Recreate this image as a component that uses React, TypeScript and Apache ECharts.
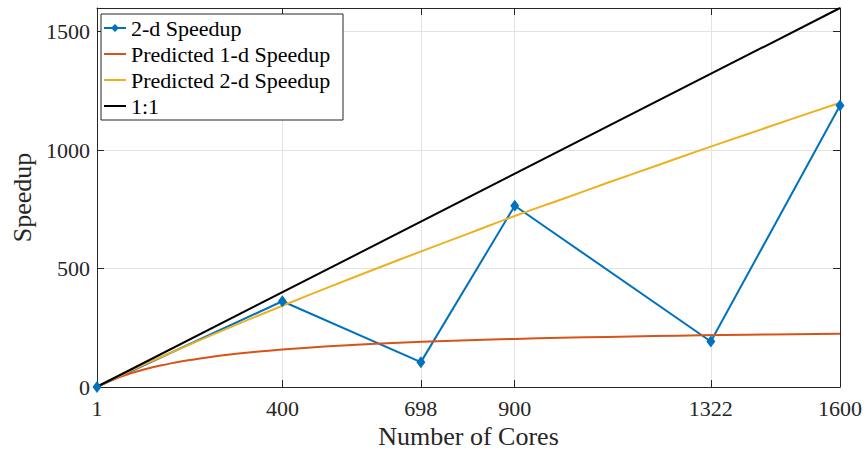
import React, { useEffect, useRef } from 'react';
import * as echarts from 'echarts';

const xTicks = [1, 400, 698, 900, 1322, 1600];
const speedupCores = [1, 400, 698, 900, 1322, 1600];
const speedup2d = [0, 362, 105, 765, 192, 1188];
const predCores = [1, 10, 25, 50, 100, 150, 200, 300, 400, 500, 600, 700, 800, 900, 1000, 1100, 1200, 1300, 1400, 1500, 1600];
const pred1d = [1, 9.7, 22.9, 42.1, 72.6, 95.6, 113.6, 140, 158, 172, 182.5, 190.7, 197.4, 203, 207.6, 211.6, 215, 218, 220.7, 223, 225];
const pred2d = [1, 9.7, 24, 47.2, 92.3, 136.1, 178.9, 262.2, 343, 421.5, 498.3, 573.6, 647.5, 722, 791.5, 862, 931, 1000, 1067, 1134, 1200];
const oneCores = [1, 1600];
const oneVals = [1, 1600];

const seriesNames = ['2-d Speedup', 'Predicted 1-d Speedup', 'Predicted 2-d Speedup', '1:1'];
const colors = ['#0072BD', '#D95319', '#EDB120', '#000000'];

const FONT = 'Liberation Serif';
const AX = '#262626';

const pairs = (xs: number[], ys: number[]) => xs.map((x, i) => [x, ys[i]]);

export default function App() {
  const ref = useRef<HTMLDivElement>(null);
  useEffect(() => {
    if (!ref.current) return;
    const chart = echarts.init(ref.current, undefined, { renderer: 'svg' });
    const common = {
      type: 'value' as const,
      axisLine: { show: true, onZero: false, lineStyle: { color: AX, width: 1 } },
    };
    chart.setOption({
      animation: false,
      backgroundColor: '#ffffff',
      textStyle: { fontFamily: FONT },
      grid: { left: 97, right: 26, top: 8, bottom: 63, containLabel: false, outerBoundsMode: 'none' },
      legend: {
        orient: 'vertical',
        left: 101,
        top: 14,
        data: seriesNames.map((n, i) => (i === 0 ? { name: n } : { name: n, itemStyle: { opacity: 0 } })),
        itemWidth: 22,
        itemHeight: 10,
        itemGap: 4,
        padding: [3, 2, 3, 2],
        backgroundColor: '#ffffff',
        borderColor: AX,
        borderWidth: 1,
        borderRadius: 0,
        textStyle: { fontFamily: FONT, fontSize: 22, color: '#000', lineHeight: 22, width: 210 },
      },
      xAxis: [
        {
          ...common,
          min: 1,
          max: 1600,
          position: 'bottom',
          name: 'Number of Cores',
          nameLocation: 'middle',
          nameGap: 36,
          nameTextStyle: { fontFamily: FONT, fontSize: 26, color: AX },
          axisTick: { show: true, inside: true, length: 7, customValues: xTicks, lineStyle: { color: AX } },
          axisLabel: { show: true, customValues: xTicks, margin: 10, fontFamily: FONT, fontSize: 22, color: AX,
            formatter: (v: number) => String(v) },
          splitLine: { show: true, lineStyle: { color: '#e3e3e3', width: 1 } },
        },
        {
          ...common,
          min: 1,
          max: 1600,
          position: 'top',
          axisTick: { show: true, inside: true, length: 7, customValues: xTicks, lineStyle: { color: AX } },
          axisLabel: { show: false, customValues: xTicks },
          splitLine: { show: false },
        },
      ],
      yAxis: [
        {
          ...common,
          min: 0,
          max: 1600,
          interval: 500,
          position: 'left',
          name: 'Speedup',
          nameLocation: 'middle',
          nameGap: 61,
          nameTextStyle: { fontFamily: FONT, fontSize: 26, color: AX },
          axisTick: { show: true, inside: true, length: 7, lineStyle: { color: AX } },
          axisLabel: { show: true, margin: 7, showMaxLabel: false, fontFamily: FONT, fontSize: 22, color: AX,
            formatter: (v: number) => (v === 1600 ? '' : String(v)) },
          splitLine: { show: true, lineStyle: { color: '#e3e3e3', width: 1 } },
        },
        {
          ...common,
          min: 0,
          max: 1600,
          interval: 500,
          position: 'right',
          axisTick: { show: true, inside: true, length: 7, lineStyle: { color: AX } },
          axisLabel: { show: false },
          splitLine: { show: false },
        },
      ],
      series: [
        {
          name: seriesNames[0],
          type: 'line',
          data: pairs(speedupCores, speedup2d),
          symbol: 'diamond',
          symbolSize: [9, 12],
          showSymbol: true,
          color: colors[0],
          lineStyle: { color: colors[0], width: 2 },
          itemStyle: { color: colors[0] },
        },
        {
          name: seriesNames[1],
          type: 'line',
          data: pairs(predCores, pred1d),
          symbol: 'none',
          smooth: true,
          color: colors[1],
          lineStyle: { color: colors[1], width: 2 },
        },
        {
          name: seriesNames[2],
          type: 'line',
          data: pairs(predCores, pred2d),
          symbol: 'none',
          smooth: true,
          color: colors[2],
          lineStyle: { color: colors[2], width: 2 },
        },
        {
          name: seriesNames[3],
          type: 'line',
          data: pairs(oneCores, oneVals),
          symbol: 'none',
          color: colors[3],
          lineStyle: { color: colors[3], width: 2 },
        },
      ],
    });
    return () => chart.dispose();
  }, []);
  return (
    <div
      ref={ref}
      style={{ position: 'fixed', left: 0, top: 0, width: 866, height: 450, background: '#fff' }}
    />
  );
}
